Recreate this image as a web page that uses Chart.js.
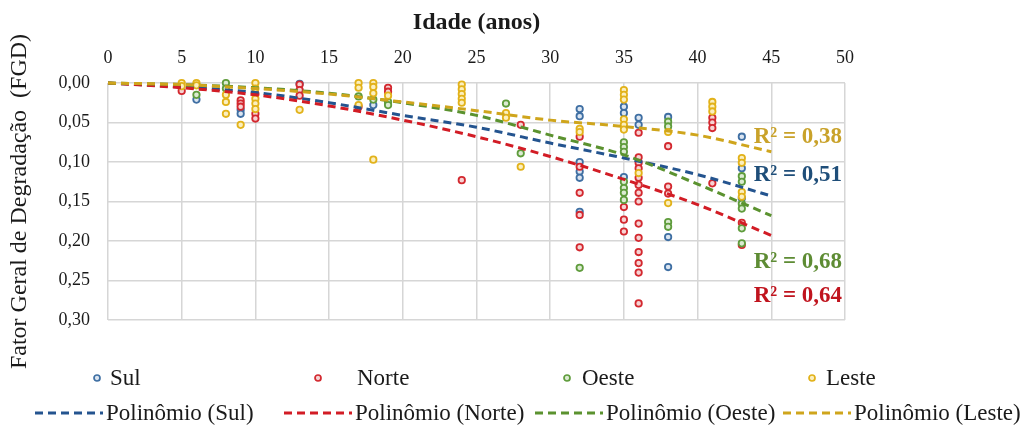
<!DOCTYPE html>
<html lang="pt-BR">
<head>
<meta charset="utf-8">
<script src="https://cdn.jsdelivr.net/npm/chart.js@4.4.1/dist/chart.umd.min.js"></script>
<style>
  html, body { margin: 0; padding: 0; background: #ffffff; }
  #quadro { position: relative; width: 1027px; height: 430px; overflow: hidden; background: #ffffff; }
  #grafico { position: absolute; left: 0; top: 0; }
  .leg { position: absolute; display: flex; align-items: center; white-space: nowrap; line-height: 26px;
         font-family: "Liberation Serif", "Times New Roman", serif; font-size: 23px; color: #1a1a1a; }
  .leg svg { display: block; }
</style>
</head>
<body>
<div id="quadro">
  <canvas id="grafico" width="1027" height="430"></canvas>
</div>
<script>
// Idade (anos) e Fator Geral de Degradação de cada fachada
const sulIdade = [6, 9, 9, 13, 18, 32, 32, 32, 32, 32, 32, 35, 35, 35, 36, 36, 38, 38, 38, 43, 43, 43];
const sulFGD   = [0.021, 0.034, 0.039, 0.001, 0.028, 0.033, 0.042, 0.100, 0.112, 0.120, 0.163, 0.030, 0.038, 0.119, 0.044, 0.053, 0.043, 0.195, 0.233, 0.068, 0.108, 0.146];

const norteIdade = [5, 9, 9, 9, 10, 10, 10, 13, 13, 13, 17, 19, 19, 24, 28,
                    32, 32, 32, 32, 32, 35, 35, 35,
                    36, 36, 36, 36, 36, 36, 36, 36, 36, 36, 36, 36, 36, 36,
                    38, 38, 38, 41, 41, 41, 41, 43, 43];
const norteFGD   = [0.010, 0.022, 0.026, 0.030, 0.014, 0.039, 0.045, 0.002, 0.009, 0.016, 0.030, 0.006, 0.011, 0.123, 0.053,
                    0.068, 0.106, 0.139, 0.167, 0.208, 0.157, 0.173, 0.188,
                    0.063, 0.094, 0.101, 0.108, 0.120, 0.129, 0.139, 0.150, 0.178, 0.196, 0.214, 0.228, 0.240, 0.279,
                    0.080, 0.131, 0.140, 0.044, 0.050, 0.057, 0.127, 0.177, 0.205];

const oesteIdade = [6, 8, 8, 17, 18, 19, 19, 27, 28, 32, 35, 35, 35, 35, 35, 35, 35, 38, 38, 38, 38, 43, 43, 43, 43, 43, 43];
const oesteFGD   = [0.015, 0.000, 0.007, 0.017, 0.021, 0.024, 0.028, 0.026, 0.089, 0.234,
                    0.075, 0.081, 0.087, 0.125, 0.133, 0.139, 0.148, 0.049, 0.055, 0.176, 0.182,
                    0.118, 0.125, 0.153, 0.159, 0.184, 0.203];

const lesteIdade = [5, 5, 6, 6, 8, 8, 8, 9, 10, 10, 10, 10, 10, 13, 17, 17, 17, 18, 18, 18, 18, 19,
                    24, 24, 24, 24, 24, 27, 27, 28, 32, 32, 35, 35, 35, 35, 35, 35, 36, 38, 38, 41, 41, 41, 43, 43, 43, 43];
const lesteFGD   = [0.000, 0.004, 0.000, 0.003, 0.015, 0.024, 0.039, 0.053, 0.000, 0.007, 0.020, 0.026, 0.033, 0.034,
                    0.000, 0.006, 0.028, 0.000, 0.005, 0.013, 0.097, 0.016,
                    0.002, 0.008, 0.014, 0.020, 0.025, 0.038, 0.044, 0.106, 0.058, 0.062,
                    0.009, 0.015, 0.021, 0.046, 0.053, 0.059, 0.114, 0.062, 0.152, 0.024, 0.030, 0.036,
                    0.095, 0.101, 0.138, 0.144];

// Linhas de tendência polinomial
const idadeTendencia = [0, 5, 10, 15, 20, 25, 30, 35, 40, 45];
const tendSul   = [0, 0.005, 0.012, 0.025, 0.041, 0.056, 0.076, 0.095, 0.116, 0.143];
const tendNorte = [0, 0.006, 0.015, 0.029, 0.047, 0.068, 0.093, 0.122, 0.154, 0.193];
const tendOeste = [0, 0.002, 0.006, 0.013, 0.025, 0.041, 0.066, 0.091, 0.128, 0.168];
const tendLeste = [0, 0.002, 0.007, 0.014, 0.024, 0.035, 0.047, 0.055, 0.066, 0.087];

const fachadas = ['Sul', 'Norte', 'Oeste', 'Leste'];
const valoresR2 = ['0,51', '0,64', '0,68', '0,38'];
const ticksIdade = [0, 5, 10, 15, 20, 25, 30, 35, 40, 45, 50];
const ticksFGD = [0, 0.05, 0.10, 0.15, 0.20, 0.25, 0.30];

const FONTE = '"Liberation Serif", "Times New Roman", serif';

const estilo = {
  Sul:   { ponto: '#3f6fa3', fundo: '#dbe5f1', linha: '#24548f', r2: '#1f4e79' },
  Norte: { ponto: '#d3282f', fundo: '#f6d3d3', linha: '#d21c25', r2: '#c0141e' },
  Oeste: { ponto: '#5f9c3c', fundo: '#dcebd2', linha: '#5b922f', r2: '#5e8c34' },
  Leste: { ponto: '#e2b21a', fundo: '#fbefbf', linha: '#cfa51c', r2: '#c9a22a' }
};

const pares = (xs, ys) => xs.map((x, i) => ({ x: x, y: ys[i] }));

const series = {
  Sul:   pares(sulIdade, sulFGD),
  Norte: pares(norteIdade, norteFGD),
  Oeste: pares(oesteIdade, oesteFGD),
  Leste: pares(lesteIdade, lesteFGD)
};
const tendencias = {
  Sul:   pares(idadeTendencia, tendSul),
  Norte: pares(idadeTendencia, tendNorte),
  Oeste: pares(idadeTendencia, tendOeste),
  Leste: pares(idadeTendencia, tendLeste)
};

const ordemPontos = { Sul: 8, Norte: 7, Oeste: 6, Leste: 5 };
const ordemLinhas = { Sul: 4, Norte: 3, Oeste: 2, Leste: 1 };

const datasets = [];
fachadas.forEach(f => {
  datasets.push({
    type: 'scatter',
    label: f,
    data: series[f],
    order: ordemPontos[f],
    pointRadius: 3.2,
    pointBorderWidth: 1.8,
    pointBorderColor: estilo[f].ponto,
    pointBackgroundColor: estilo[f].fundo,
    clip: false
  });
});
fachadas.forEach(f => {
  datasets.push({
    type: 'line',
    label: 'Polinômio (' + f + ')',
    data: tendencias[f],
    order: ordemLinhas[f],
    borderColor: estilo[f].linha,
    borderWidth: 3,
    borderDash: [8, 5],
    pointRadius: 0,
    fill: false,
    cubicInterpolationMode: 'monotone',
    clip: false
  });
});

// Rótulos R² à direita das curvas (posições em unidades dos eixos)
const rotulosR2 = [
  { fachada: 'Leste', y: 0.068 },
  { fachada: 'Sul',   y: 0.116 },
  { fachada: 'Oeste', y: 0.227 },
  { fachada: 'Norte', y: 0.270 }
];

const pluginR2 = {
  id: 'rotulosR2',
  afterDatasetsDraw(chart) {
    const { ctx, scales } = chart;
    ctx.save();
    ctx.font = 'bold 23px ' + FONTE;
    ctx.textAlign = 'right';
    ctx.textBaseline = 'middle';
    rotulosR2.forEach(r => {
      const idx = fachadas.indexOf(r.fachada);
      ctx.fillStyle = estilo[r.fachada].r2;
      ctx.fillText('R² = ' + valoresR2[idx], scales.x.getPixelForValue(49.8), scales.y.getPixelForValue(r.y));
    });
    ctx.restore();
  }
};

new Chart(document.getElementById('grafico'), {
  type: 'scatter',
  data: { datasets: datasets },
  plugins: [pluginR2],
  options: {
    responsive: false,
    animation: false,
    events: [],
    layout: { padding: { left: 0, top: 0, right: 182, bottom: 110 } },
    plugins: { legend: { display: false }, tooltip: { enabled: false } },
    scales: {
      x: {
        type: 'linear',
        position: 'top',
        min: 0, max: 50,
        afterBuildTicks(s) { s.ticks = ticksIdade.map(v => ({ value: v })); },
        afterFit(s) { s.height = 83; },
        ticks: { padding: 14, color: '#1a1a1a', font: { family: FONTE, size: 18 } },
        grid: { color: '#d6d6d6', lineWidth: 1.5, drawTicks: false },
        border: { display: false },
        title: { display: true, text: 'Idade (anos)', color: '#1a1a1a',
                 font: { family: FONTE, size: 24, weight: 'bold' }, padding: { top: 8, bottom: 0 } }
      },
      y: {
        type: 'linear',
        reverse: true,
        min: 0, max: 0.30,
        afterBuildTicks(s) { s.ticks = ticksFGD.map(v => ({ value: v })); },
        afterFit(s) { s.width = 108; },
        ticks: { padding: 18, color: '#1a1a1a', font: { family: FONTE, size: 18 },
                 callback: v => Number(v).toFixed(2).replace('.', ',') },
        grid: { color: '#d6d6d6', lineWidth: 1.5, drawTicks: false },
        border: { display: false },
        title: { display: true, text: 'Fator Geral de Degradação  (FGD)', color: '#1a1a1a',
                 font: { family: FONTE, size: 24 }, padding: { top: 5, bottom: 0 } }
      }
    }
  }
});

// Legenda em duas linhas
const quadro = document.getElementById('quadro');
const svgNS = 'http://www.w3.org/2000/svg';
function marcador(f) {
  const s = document.createElementNS(svgNS, 'svg');
  s.setAttribute('width', '10'); s.setAttribute('height', '10');
  const c = document.createElementNS(svgNS, 'circle');
  c.setAttribute('cx', '5'); c.setAttribute('cy', '5'); c.setAttribute('r', '3');
  c.setAttribute('fill', estilo[f].fundo); c.setAttribute('stroke', estilo[f].ponto);
  c.setAttribute('stroke-width', '1.7');
  s.appendChild(c);
  return s;
}
function tracejado(f) {
  const s = document.createElementNS(svgNS, 'svg');
  s.setAttribute('width', '68'); s.setAttribute('height', '6');
  const l = document.createElementNS(svgNS, 'line');
  l.setAttribute('x1', '0'); l.setAttribute('y1', '3'); l.setAttribute('x2', '68'); l.setAttribute('y2', '3');
  l.setAttribute('stroke', estilo[f].linha); l.setAttribute('stroke-width', '3');
  l.setAttribute('stroke-dasharray', '8 5');
  s.appendChild(l);
  return s;
}
const legPontos = { Sul: [92, 110], Norte: [313, 357], Oeste: [562, 582], Leste: [807, 826] };
const legLinhas = { Sul: [35, 106], Norte: [284, 355], Oeste: [535, 606], Leste: [783, 854] };
fachadas.forEach(f => {
  const m = document.createElement('div');
  m.className = 'leg'; m.style.left = legPontos[f][0] + 'px'; m.style.top = '373px';
  m.appendChild(marcador(f));
  quadro.appendChild(m);
  const t = document.createElement('div');
  t.className = 'leg'; t.style.left = legPontos[f][1] + 'px'; t.style.top = '365px';
  t.textContent = f;
  quadro.appendChild(t);

  const d = document.createElement('div');
  d.className = 'leg'; d.style.left = legLinhas[f][0] + 'px'; d.style.top = '410px';
  d.appendChild(tracejado(f));
  quadro.appendChild(d);
  const u = document.createElement('div');
  u.className = 'leg'; u.style.left = legLinhas[f][1] + 'px'; u.style.top = '400px';
  u.textContent = 'Polinômio (' + f + ')';
  quadro.appendChild(u);
});
</script>
</body>
</html>
